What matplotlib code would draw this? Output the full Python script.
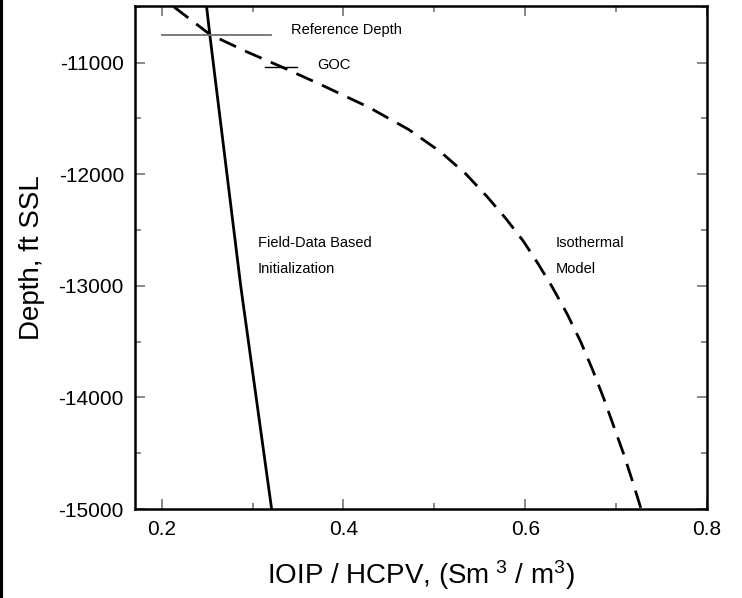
import numpy as np
import matplotlib
matplotlib.use('Agg')
import matplotlib.pyplot as plt
from matplotlib.lines import Line2D
from matplotlib.ticker import MultipleLocator

plt.rcParams['font.family'] = ['Liberation Sans', 'DejaVu Sans']
plt.rcParams['mathtext.fontset'] = 'custom'
plt.rcParams['mathtext.rm'] = 'Liberation Sans'
plt.rcParams['mathtext.default'] = 'regular'
plt.rcParams['axes.unicode_minus'] = False

# field-data based initialization (solid)
field_x = [0.2495, 0.253, 0.287, 0.321]
field_depth = [-10500, -10750, -13000, -15000]

# isothermal model (dashed)
iso_x = [0.2135, 0.253, 0.293, 0.334, 0.376, 0.428, 0.472, 0.507, 0.535,
         0.558, 0.579, 0.598, 0.614, 0.629, 0.646, 0.661, 0.674, 0.686,
         0.697, 0.708, 0.718, 0.7275]
iso_depth = [-10500, -10746, -10900, -11045, -11200, -11400, -11600, -11800,
             -12000, -12200, -12400, -12600, -12800, -13000, -13250, -13500,
             -13750, -14000, -14250, -14500, -14750, -15000]

ref_depth = -10750
ref_x = [0.20, 0.32]
goc_depth = -11040
goc_x = [0.314, 0.349]

fig = plt.figure(figsize=(7.42, 5.98), dpi=100)
ax = fig.add_axes([135 / 742, 1 - 509 / 598, (707 - 135) / 742, (509 - 6) / 598])

ax.plot(field_x, field_depth, color='black', lw=2.0)
ax.plot(iso_x, iso_depth, color='black', lw=2.0, dashes=(6.5, 3.6))
ax.plot(ref_x, [ref_depth, ref_depth], color='#707070', lw=1.3)
ax.plot(goc_x, [goc_depth, goc_depth], color='black', lw=1.0)

ax.text(0.342, -10707, 'Reference Depth', fontsize=10.5, va='center')
ax.text(0.371, -11021, 'GOC', fontsize=10.5, va='center')
ax.text(0.306, -12616, 'Field-Data Based', fontsize=10.5, va='center')
ax.text(0.306, -12849, 'Initialization', fontsize=10.5, va='center')
ax.text(0.634, -12616, 'Isothermal', fontsize=10.5, va='center')
ax.text(0.634, -12849, 'Model', fontsize=10.5, va='center')

ax.set_xlim(0.1707, 0.8)
ax.set_ylim(-15000, -10492)
ax.xaxis.set_minor_locator(MultipleLocator(0.1))
ax.yaxis.set_major_locator(MultipleLocator(1000))
ax.yaxis.set_minor_locator(MultipleLocator(500))
ax.set_xticks([0.2, 0.4, 0.6, 0.8])
ax.set_xticklabels(['0.2', '0.4', '0.6', '0.8'])

ax.tick_params(which='both', direction='in', top=True, right=True,
               color='#808080', width=1.3, labelsize=15, pad=8)
ax.tick_params(which='major', length=7)
ax.tick_params(which='minor', length=4)
for s in ax.spines.values():
    s.set_linewidth(1.8)

ax.set_xlabel('IOIP / HCPV, (Sm$^{\\ 3}$ / m$^{3}$)', fontsize=20, labelpad=14)
ax.set_ylabel('Depth, ft SSL', fontsize=20, labelpad=10)

fig.add_artist(Line2D([0.002, 0.002], [0, 1], transform=fig.transFigure,
                      color='black', lw=3))

plt.savefig('out.png', dpi=100)
